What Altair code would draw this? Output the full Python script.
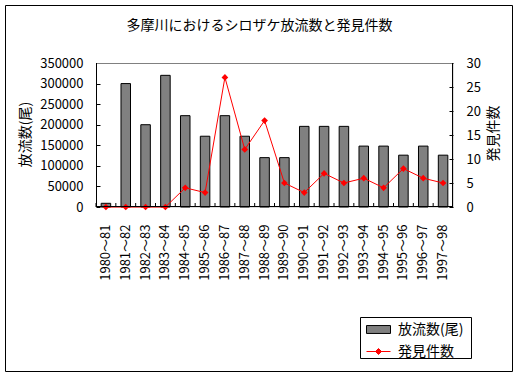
import altair as alt
import pandas as pd

categories = ["1980～81", "1981～82", "1982～83", "1983～84", "1984～85", "1985～86",
              "1986～87", "1987～88", "1988～89", "1989～90", "1990～91", "1991～92",
              "1992～93", "1993～94", "1994～95", "1995～96", "1996～97", "1997～98"]
releases = [9000, 300000, 200000, 320000, 222000, 172000, 222000, 172000, 120000,
            120000, 196000, 196000, 196000, 148000, 148000, 126000, 148000, 126000]
sightings = [0, 0, 0, 0, 4, 3, 27, 12, 18, 5, 3, 7, 5, 6, 4, 8, 6, 5]
left_ticks = [0, 50000, 100000, 150000, 200000, 250000, 300000, 350000]
right_ticks = [0, 5, 10, 15, 20, 25, 30]
bar_name = "放流数(尾)"
line_name = "発見件数"
title_text = "多摩川におけるシロザケ放流数と発見件数"

FONT = "Noto Sans CJK JP"
W, H = 357, 144

df = pd.DataFrame({"cat": categories, "rel": releases, "sig": sightings})
df["s1"] = bar_name
df["s2"] = line_name
one = pd.DataFrame({"a": [0]})

x_axis = alt.Axis(title=None, labelAngle=270, labelPadding=17, ticks=False, tickSize=0,
                  domain=False, labelFontSize=13, labelFont=FONT, labelColor="black")
x_enc = alt.X("cat:N", sort=categories,
              scale=alt.Scale(paddingInner=0, paddingOuter=0), axis=x_axis)

bars = alt.Chart(df).mark_bar(width=alt.RelativeBandSize(0.48), stroke="black",
                              strokeWidth=1).encode(
    x=x_enc,
    y=alt.Y("rel:Q", scale=alt.Scale(domain=[0, 350000], nice=False),
            axis=alt.Axis(title=bar_name, values=left_ticks, orient="left", offset=-4,
                          tickSize=4, tickColor="black", domain=False, grid=False,
                          labelPadding=13, format="d", labelFont=FONT, labelFontSize=13,
                          labelColor="black", titleFont=FONT, titleFontSize=14,
                          titleFontWeight="normal", titleColor="black", titleAngle=270,
                          titleX=-75, titleY=71, titleAlign="center",
                          titleBaseline="middle")),
    fill=alt.Fill("s1:N", scale=alt.Scale(domain=[bar_name], range=["#808080"]),
                  legend=alt.Legend(title=None, orient="none", legendX=270, legendY=254,
                                    padding=0, symbolType="M-1,-0.33H1V0.33H-1Z",
                                    symbolSize=576, symbolStrokeColor="black",
                                    symbolStrokeWidth=1, labelFont=FONT, labelFontSize=14,
                                    labelOffset=7, labelColor="black")),
)

right_axis = alt.Axis(title=line_name, values=right_ticks, orient="right", offset=-4,
                      tickSize=4, tickColor="black", domain=False, grid=False,
                      labelPadding=13, labelFont=FONT, labelFontSize=13, labelColor="black",
                      titleFont=FONT, titleFontSize=14, titleFontWeight="normal",
                      titleColor="black", titleAngle=270, titleX=44, titleY=70,
                      titleAlign="center", titleBaseline="middle")
y_right = alt.Y("sig:Q", scale=alt.Scale(domain=[0, 30], nice=False), axis=right_axis)

line = alt.Chart(df).mark_line(strokeWidth=1).encode(
    x=x_enc,
    y=y_right,
    stroke=alt.Stroke("s2:N", scale=alt.Scale(domain=[line_name], range=["#ff0000"]),
                      legend=alt.Legend(title=None, orient="none", legendX=270,
                                        legendY=276, padding=0,
                                        symbolType="M-1,0H1M0,-0.25L0.25,0L0,0.25L-0.25,0Z",
                                        symbolSize=576, symbolFillColor="#ff0000",
                                        symbolStrokeWidth=1, labelFont=FONT,
                                        labelFontSize=14, labelOffset=7,
                                        labelColor="black")),
)
points = alt.Chart(df).mark_point(shape="diamond", filled=True, size=45, color="#ff0000",
                                  opacity=1).encode(x=x_enc, y=y_right)
line_layer = alt.layer(line, points)

xticks = alt.Chart(df).mark_rule(color="black", strokeWidth=1).encode(
    x=alt.X("cat:N", sort=categories, bandPosition=0),
    y=alt.value(140), y2=alt.value(144))

top_line = alt.Chart(one).mark_rule(color="#808080").encode(
    x=alt.value(0), x2=alt.value(W), y=alt.value(0.5))
left_line = alt.Chart(one).mark_rule(color="black").encode(
    x=alt.value(0.5), y=alt.value(0), y2=alt.value(H))
right_line = alt.Chart(one).mark_rule(color="black").encode(
    x=alt.value(W - 0.5), y=alt.value(0), y2=alt.value(H))
bottom_line = alt.Chart(one).mark_rule(color="black").encode(
    x=alt.value(0), x2=alt.value(W), y=alt.value(H - 0.5))

frame = alt.Chart(one).mark_rect(fill="transparent", stroke="black", strokeWidth=1).encode(
    x=alt.value(-90.5), x2=alt.value(416.5), y=alt.value(-57.5), y2=alt.value(308.5))
legend_box = alt.Chart(one).mark_rect(fill="white", stroke="black", strokeWidth=1).encode(
    x=alt.value(264.5), x2=alt.value(375.5), y=alt.value(254.5), y2=alt.value(295.5))

chart = alt.layer(
    frame, legend_box, bars, line_layer, xticks, top_line, left_line, right_line,
    bottom_line
).resolve_scale(y="independent").properties(
    width=W, height=H,
    padding={"left": 96, "top": 63, "right": 66, "bottom": 170},
    autosize=alt.AutoSizeParams(type="none"),
    title=alt.TitleParams(title_text, font=FONT, fontSize=14, fontWeight="normal",
                          color="black", anchor="middle", dx=-15, dy=20, offset=-22,
                          baseline="bottom"),
).configure_view(stroke=None).configure(background="white")

chart.save("out.html", embed_options={"renderer": "svg", "actions": False})
